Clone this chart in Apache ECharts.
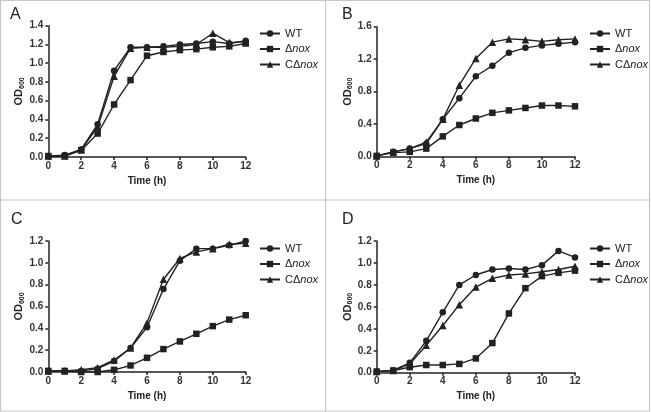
<!DOCTYPE html>
<html>
<head>
<meta charset="utf-8">
<script src="https://cdn.jsdelivr.net/npm/echarts@6/dist/echarts.min.js"></script>
<style>html,body{margin:0;padding:0;background:#fff}#c{width:651px;height:412px}</style>
</head>
<body>
<div id="c"></div>
<script>
const hours = [0,1,2,3,4,5,6,7,8,9,10,11,12];
const xTicks = [0,2,4,6,8,10,12];
const seriesNames = ['WT','Δnox','CΔnox'];
const panelLabels = ['A','B','C','D'];

const yTicksA = [0,0.2,0.4,0.6,0.8,1.0,1.2,1.4];
const yTicksB = [0,0.4,0.8,1.2,1.6];
const yTicksC = [0,0.2,0.4,0.6,0.8,1.0,1.2];
const yTicksD = [0,0.2,0.4,0.6,0.8,1.0,1.2];

const wtA  = [0.01,0.02,0.08,0.35,0.92,1.17,1.17,1.18,1.20,1.21,1.23,1.21,1.24];
const noxA = [0.01,0.01,0.07,0.25,0.56,0.82,1.08,1.12,1.14,1.15,1.17,1.18,1.21];
const cA   = [0.01,0.01,0.08,0.32,0.86,1.16,1.17,1.17,1.18,1.20,1.32,1.22,1.23];

const wtB  = [0.01,0.06,0.10,0.16,0.46,0.72,0.99,1.12,1.28,1.34,1.37,1.39,1.41];
const noxB = [0.01,0.05,0.06,0.10,0.25,0.39,0.47,0.54,0.57,0.60,0.63,0.63,0.62];
const cB   = [0.01,0.06,0.10,0.18,0.46,0.88,1.21,1.41,1.45,1.44,1.42,1.44,1.45];

const wtC  = [0.01,0.01,0.01,0.03,0.10,0.22,0.41,0.76,1.02,1.13,1.13,1.16,1.20];
const noxC = [0.01,0.01,0.00,0.00,0.02,0.06,0.13,0.21,0.28,0.35,0.42,0.48,0.52];
const cC   = [0.01,0.01,0.02,0.04,0.11,0.22,0.45,0.85,1.04,1.10,1.13,1.17,1.18];

const wtD  = [0.01,0.02,0.09,0.29,0.55,0.80,0.89,0.94,0.95,0.94,0.98,1.11,1.05];
const noxD = [0.01,0.02,0.05,0.07,0.07,0.08,0.13,0.27,0.54,0.77,0.88,0.91,0.93];
const cD   = [0.01,0.02,0.08,0.25,0.43,0.62,0.78,0.86,0.89,0.90,0.92,0.94,0.97];

const panels = [
  {ticks: yTicksA, data: [wtA, noxA, cA]},
  {ticks: yTicksB, data: [wtB, noxB, cB]},
  {ticks: yTicksC, data: [wtC, noxC, cC]},
  {ticks: yTicksD, data: [wtD, noxD, cD]}
];

const FONT = '"Liberation Sans", Arial, Helvetica, sans-serif';
const INK = '#222';
const gridBoxes = [
  {left: 48.3, top: 25.7, width: 197.4, height: 131.3},
  {left: 376.7, top: 26.7, width: 198.3, height: 130},
  {left: 48.3, top: 241, width: 197.4, height: 131},
  {left: 376.7, top: 241, width: 198.3, height: 131.7}
];
const legendPos = [
  {left: 259, top: 28},
  {left: 589, top: 28},
  {left: 259, top: 243},
  {left: 589, top: 243}
];
const letterPos = [[10, 15.5], [342, 15.5], [11, 220.5], [342, 220.5]];
const symbols = ['circle', 'rect', 'triangle'];
const symSizes = [6.5, 6.5, 7.5];

const grid = [], xAxis = [], yAxis = [], series = [], legend = [];
panels.forEach((p, i) => {
  grid.push(Object.assign({containLabel: false}, gridBoxes[i]));
  xAxis.push({
    type: 'value', gridIndex: i, min: xTicks[0], max: xTicks[xTicks.length - 1],
    interval: xTicks[1] - xTicks[0],
    name: 'Time (h)', nameLocation: 'middle', nameGap: 19,
    nameTextStyle: {fontFamily: FONT, fontSize: 10, fontWeight: 'bold', color: INK},
    axisLine: {onZero: false, lineStyle: {color: INK, width: 1.5}},
    axisTick: {show: true, length: 3, lineStyle: {color: INK, width: 1.5}},
    axisLabel: {margin: 4, fontFamily: FONT, fontSize: 10, fontWeight: 'bold', color: '#333'},
    splitLine: {show: false}
  });
  yAxis.push({
    type: 'value', gridIndex: i, min: p.ticks[0], max: p.ticks[p.ticks.length - 1],
    interval: p.ticks[1] - p.ticks[0],
    name: '{b|OD}{s|600}', nameLocation: 'middle', nameGap: 22, nameRotate: 90,
    nameTextStyle: {
      fontFamily: FONT, color: INK,
      rich: {
        b: {fontFamily: FONT, fontSize: 11, fontWeight: 'bold', color: INK, lineHeight: 14, verticalAlign: 'middle'},
        s: {fontFamily: FONT, fontSize: 7, fontWeight: 'bold', color: INK, lineHeight: 14, padding: [5, 0, 0, 0], verticalAlign: 'middle'}
      }
    },
    axisLine: {show: true, onZero: false, lineStyle: {color: INK, width: 1.5}},
    axisTick: {show: true, length: 3, lineStyle: {color: INK, width: 1.5}},
    axisLabel: {margin: 5, fontFamily: FONT, fontSize: 10, fontWeight: 'bold', color: '#333',
      formatter: v => v.toFixed(1)},
    splitLine: {show: false}
  });
  p.data.forEach((vals, k) => {
    series.push({
      name: seriesNames[k], type: 'line', xAxisIndex: i, yAxisIndex: i,
      data: hours.map((h, j) => [h, vals[j]]),
      symbol: symbols[k], symbolSize: symSizes[k], showSymbol: true, showAllSymbol: true,
      itemStyle: {color: INK}, lineStyle: {color: INK, width: 1.4},
      animation: false
    });
  });
  legend.push({
    data: seriesNames, orient: 'vertical', left: legendPos[i].left, top: legendPos[i].top,
    itemWidth: 20, itemHeight: 8, itemGap: 4.5, padding: 0,
    selectedMode: false,
    formatter: n => n === 'WT' ? '{a|WT}' : (n === 'Δnox' ? '{a|Δ}{i|nox}' : '{a|CΔ}{i|nox}'),
    textStyle: {
      fontFamily: FONT, fontSize: 11, color: INK,
      rich: {
        a: {fontFamily: FONT, fontSize: 11, color: INK},
        i: {fontFamily: FONT, fontSize: 11, color: INK, fontStyle: 'italic'}
      }
    }
  });
});

const frame = '#c8c8c8';
const graphic = [
  {type: 'rect', shape: {x: 0.5, y: 0.5, width: 649, height: 410.5}, style: {fill: null, stroke: frame, lineWidth: 1.2}, silent: true},
  {type: 'line', shape: {x1: 325.7, y1: 0.5, x2: 325.7, y2: 411}, style: {stroke: frame, lineWidth: 1.2}, silent: true},
  {type: 'line', shape: {x1: 0.5, y1: 200, x2: 649.5, y2: 200}, style: {stroke: frame, lineWidth: 1.2}, silent: true}
];
panelLabels.forEach((t, i) => {
  graphic.push({type: 'text', left: letterPos[i][0], top: letterPos[i][1] - 9, silent: true,
    style: {text: t, fontFamily: FONT, fontSize: 16, fill: INK}});
});

const chart = echarts.init(document.getElementById('c'), null, {renderer: 'canvas'});
chart.setOption({
  animation: false,
  backgroundColor: '#fff',
  grid, xAxis, yAxis, series, legend, graphic
});
</script>
</body>
</html>
